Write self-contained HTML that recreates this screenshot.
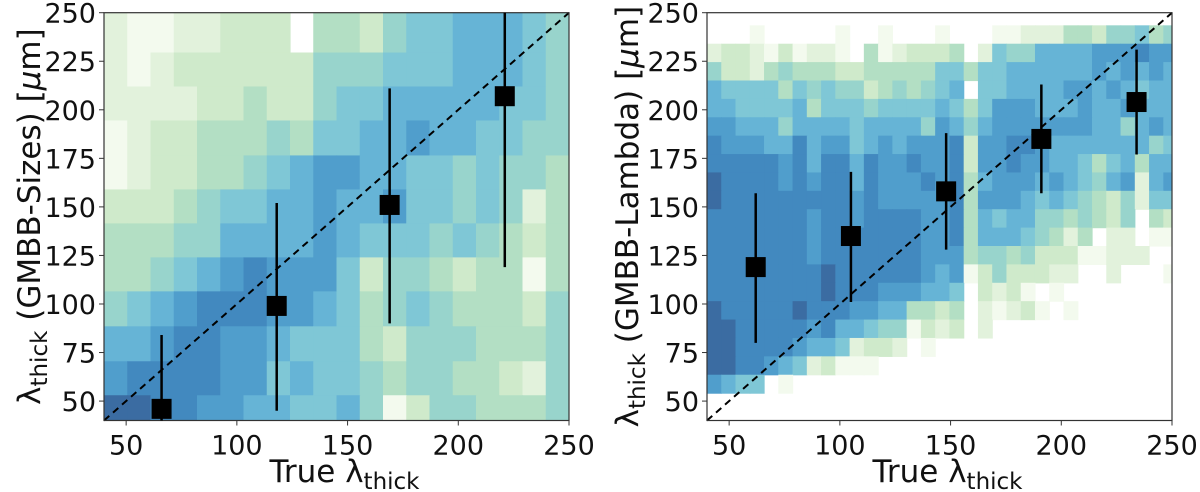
<!DOCTYPE html>
<html><head><meta charset="utf-8"><style>
html,body{margin:0;padding:0;background:#fff;}
svg{display:block;font-family:"DejaVu Sans","Liberation Sans",sans-serif;}
</style></head><body>
<svg id="fig" width="1200" height="492" viewBox="0 0 1200 492"></svg>
<script>
// ---- data ----
const colorLevels = ['#ffffff','#f3faee','#e2f2dc','#cfeacb','#b3dfc4','#98d4cc','#7fc7d6','#66b4d6','#509ecc','#4289bf','#3b6ca2'];
const leftRowEdges = [250,229.5,212,194.5,176.5,159,141.5,124,106.5,88.5,70.5,53,40];
const leftGrid = [
 "21122333044356677765",
 "21233333355566677765",
 "22223343356677777665",
 "12334445466778776655",
 "12334456788776656554",
 "33345667787786656524",
 "44455777787666565434",
 "44567898886355434414",
 "56789998876456544435",
 "77899887666435554445",
 "89999886766545544325",
 "aa998877667513554445"
];
const rightTop = 243.5;
const rightRowH = 9.47;
const rightGrid = [
 "000100000100100010001122244355645",
 "233213122104123334026557777888988",
 "533245444334444466466777777878787",
 "766664656553454567066777788787677",
 "776666746665666676468887778778777",
 "887775777767777587578888888775787",
 "988877978867878889388998777777756",
 "999998979979889889388988776467477",
 "a99998989979888989478887876578278",
 "a99999999989888889488876765435266",
 "999999989989999889476775545435043",
 "999999989999999889477765424022011",
 "999999989999999888455453331122200",
 "99999999a999999878135333220020001",
 "99999999a999888776032310100000000",
 "a99999a99988774434021231010000000",
 "aa9999989776551323020000000000000",
 "aa9999877623320100000000000000000",
 "aa9987623111000000000000000000000",
 "876601000000000000000000000000000"
];
const leftX = [66,118,169,221];
const leftY = [46,99,151,207];
const leftLo = [40,45,90,119];
const leftHi = [84,152,211,252];
const rightX = [62,105,148,191,234];
const rightY = [119,135,158,185,204];
const rightLo = [80,101,128,157,177];
const rightHi = [157,168,188,213,231];
const ticks = [50,100,150,200,250];
const yTicks = [50,75,100,125,150,175,200,225,250];

const NS = 'http://www.w3.org/2000/svg';
const svg = document.getElementById('fig');
function mk(tag, attrs, parent){
  const e = document.createElementNS(NS, tag);
  for (const k in attrs) e.setAttribute(k, attrs[k]);
  (parent||svg).appendChild(e);
  return e;
}
function lvl(ch){ return ch==='a'?10:parseInt(ch,10); }

function panel(px0, px1, py0, py1, name){
  const sx = v => px0 + (v-40)/210*(px1-px0);
  const sy = v => py1 - (v-40)/210*(py1-py0);
  const g = mk('g', {});
  
  
  const clipId = 'clip-'+name;
  const cp = mk('clipPath', {id: clipId}, g);
  mk('rect', {x:px0, y:py0, width:px1-px0, height:py1-py0}, cp);
  const cells = mk('g', {'clip-path':'url(#'+clipId+')'}, g);
  
  
  return {g, cells, sx, sy};
}

function axes(P, px0, px1, py0, py1, ylabel, labelX){
  const {g, sx, sy} = P;
  const d = mk('line', {x1:sx(40), y1:sy(40), x2:sx(250), y2:sy(250), stroke:'#000', 'stroke-width':2, 'stroke-dasharray':'7,5'}, g);
  
  
  const fr = mk('rect', {x:px0, y:py0, width:px1-px0, height:py1-py0, fill:'none', stroke:'#333', 'stroke-width':1.2}, g);
  
  
  ticks.forEach(t => {
    mk('line', {x1:sx(t), x2:sx(t), y1:py1, y2:py1+5, stroke:'#333', 'stroke-width':1}, g);
    const tx = mk('text', {x:sx(t), y:py1+34, 'font-size':27, 'text-anchor':'middle', fill:'#111'}, g);
    tx.textContent = t;
    
    
  });
  yTicks.forEach(t => {
    mk('line', {x1:px0-5, x2:px0, y1:sy(t), y2:sy(t), stroke:'#333', 'stroke-width':1}, g);
    const tx = mk('text', {x:px0-8, y:sy(t)+10, 'font-size':27, 'text-anchor':'end', fill:'#111'}, g);
    tx.textContent = t;
    
    
  });
  const xl = mk('text', {x:(px0+px1)/2+8, y:482, 'font-size':31, 'text-anchor':'middle', fill:'#111'}, g);
  xl.innerHTML = 'True λ<tspan font-size="23" dy="7">thick</tspan>';
  
  
  const yl = mk('text', {x:0, y:0, 'font-size':31, 'text-anchor':'middle', fill:'#111', transform:'translate('+labelX+','+((py0+py1)/2)+') rotate(-90)'}, g);
  yl.innerHTML = 'λ<tspan font-size="23" dy="7">thick</tspan><tspan dy="-7"> ('+ylabel+') [</tspan><tspan font-style="italic">μ</tspan><tspan>m]</tspan>';
  
  
}

function markers(P, xs, ys, lo, hi, py0){
  const {g, sx, sy} = P;
  xs.forEach((x,i) => {
    const eb = mk('line', {x1:sx(x), x2:sx(x), y1:Math.max(py0, sy(hi[i])), y2:sy(lo[i]), stroke:'#000', 'stroke-width':2.5}, g);
    
    
    const m = mk('rect', {x:sx(x)-10, y:sy(ys[i])-10, width:20, height:20, fill:'#000'}, g);
    
    
  });
}

const L = panel(104, 569, 12.7, 420.5, 'left-panel');
leftGrid.forEach((row, r) => {
  const ncol = row.length, w = 210/ncol;
  for (let c=0;c<ncol;c++){
    const v = lvl(row[c]);
    if (v===0) continue;
    const x0 = 40 + c*w;
    const rc = mk('rect', {x:L.sx(x0), y:L.sy(leftRowEdges[r]), width:L.sx(x0+w)-L.sx(x0)+0.6, height:L.sy(leftRowEdges[r+1])-L.sy(leftRowEdges[r])+0.6, fill:colorLevels[v]}, L.cells);
    
    
  }
});
axes(L, 104, 569, 12.7, 420.5, 'GMBB-Sizes', 40);
markers(L, leftX, leftY, leftLo, leftHi, 12.7);

const R = panel(707, 1172, 12.7, 420.5, 'right-panel');
rightGrid.forEach((row, r) => {
  const w = 6.44;
  for (let c=0;c<row.length;c++){
    const v = lvl(row[c]);
    if (v===0) continue;
    const x0 = 40 + c*w;
    const yTop = rightTop - r*rightRowH;
    const rc = mk('rect', {x:R.sx(x0), y:R.sy(yTop), width:R.sx(x0+w)-R.sx(x0)+0.6, height:R.sy(yTop-rightRowH)-R.sy(yTop)+0.6, fill:colorLevels[v]}, R.cells);
    
    
  }
});
axes(R, 707, 1172, 12.7, 420.5, 'GMBB-Lambda', 638);
markers(R, rightX, rightY, rightLo, rightHi, 12.7);
</script>
</body></html>
